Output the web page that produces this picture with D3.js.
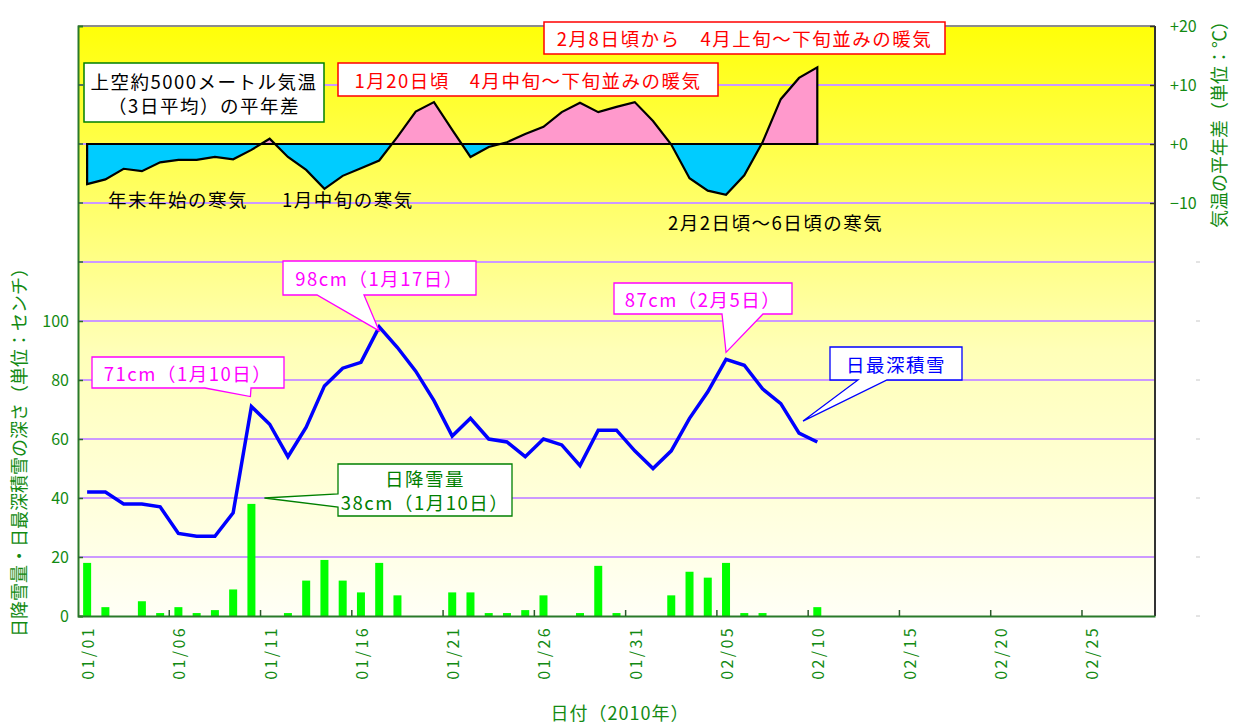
<!DOCTYPE html>
<html>
<head>
<meta charset="utf-8">
<script src="https://cdn.jsdelivr.net/npm/d3@7"></script>
<style>
  body { margin: 0; background: #fff; }
  svg text { font-family: "Noto Sans CJK JP", "Noto Sans", sans-serif; }
</style>
</head>
<body>
<script>
// categories: every day of Jan-Feb 2010
var days = [
  "01/01","01/02","01/03","01/04","01/05","01/06","01/07","01/08","01/09","01/10",
  "01/11","01/12","01/13","01/14","01/15","01/16","01/17","01/18","01/19","01/20",
  "01/21","01/22","01/23","01/24","01/25","01/26","01/27","01/28","01/29","01/30",
  "01/31","02/01","02/02","02/03","02/04","02/05","02/06","02/07","02/08","02/09",
  "02/10","02/11","02/12","02/13","02/14","02/15","02/16","02/17","02/18","02/19",
  "02/20","02/21","02/22","02/23","02/24","02/25","02/26","02/27","02/28"
];
var dayTicks = ["01/01","01/06","01/11","01/16","01/21","01/26","01/31","02/05","02/10","02/15","02/20","02/25"];

// 日降雪量 (cm)
var snowfall = [18,3,0,5,1,3,1,2,9,38, 0,1,12,19,12,8,18,7,0,0, 8,8,1,1,2,7,0,1,17,1, 0,0,7,15,13,18,1,1,0,0, 3];
// 日最深積雪 (cm)
var snowDepth = [42,42,38,38,37,28,27,27,35,71, 65,54,64,78,84,86,98,91,83,73, 61,67,60,59,54,60,58,51,63,63, 56,50,56,67,76,87,85,77,72,62, 59];
// 上空約5000m気温（3日平均）の平年差 (℃)
var tempAnomaly = [-6.8,-6.0,-4.2,-4.6,-3.1,-2.7,-2.7,-2.2,-2.6,-1.0, 0.9,-2.2,-4.4,-7.6,-5.4,-4.1,-2.8,1.2,5.5,7.1,
  2.4,-2.2,-0.5,0.3,1.7,2.9,5.4,7.0,5.4,6.3, 7.1,3.9,-0.1,-5.8,-7.9,-8.6,-5.3,0.3,7.6,11.2, 13.0];

var leftTicks = [0,20,40,60,80,100];
var gridValues = [20,40,60,80,100,120,140,160,180];
var rightTicks = [20,10,0,-10];
var rightTickLabels = ["+20","+10","+0","\u221210"];

var width = 1239, height = 726;
var plot = {left: 78, right: 1155, top: 26, bottom: 616};
var green = "#138a13";

var svg = d3.select("body").append("svg")
  .attr("width", width)
  .attr("height", height);

var defs = svg.append("defs");
var grad = defs.append("linearGradient")
  .attr("id", "bg").attr("x1", 0).attr("y1", 0).attr("x2", 0).attr("y2", 1);
grad.append("stop").attr("offset", "0%").attr("stop-color", "#ffff08");
grad.append("stop").attr("offset", "55%").attr("stop-color", "#ffffb8");
grad.append("stop").attr("offset", "100%").attr("stop-color", "#fffff6");

// scales
var x = d3.scaleBand().domain(days).range([plot.left, plot.right]);
var yL = d3.scaleLinear().domain([0, 200]).range([plot.bottom, plot.top]);
var yR = d3.scaleLinear().domain([-80, 20]).range([plot.bottom, plot.top]);
var cx = function(i) { return x(days[i]) + x.bandwidth() / 2; };

defs.append("clipPath").attr("id", "above").append("rect")
  .attr("x", plot.left).attr("y", plot.top)
  .attr("width", plot.right - plot.left).attr("height", yR(0) - plot.top);
defs.append("clipPath").attr("id", "below").append("rect")
  .attr("x", plot.left).attr("y", yR(0))
  .attr("width", plot.right - plot.left).attr("height", plot.bottom - yR(0));

// plot background
svg.append("rect")
  .attr("x", plot.left).attr("y", plot.top)
  .attr("width", plot.right - plot.left).attr("height", plot.bottom - plot.top)
  .attr("fill", "url(#bg)");

// gridlines
svg.append("g").selectAll("line")
  .data(gridValues)
  .enter().append("line")
  .attr("x1", plot.left).attr("x2", plot.right)
  .attr("y1", function(d) { return yL(d); })
  .attr("y2", function(d) { return yL(d); })
  .attr("stroke", "#cc99ff")
  .attr("stroke-width", 2);

// snowfall bars
svg.append("g").selectAll("rect")
  .data(snowfall)
  .enter().append("rect")
  .attr("x", function(d, i) { return cx(i) - 4; })
  .attr("width", 8)
  .attr("y", function(d) { return yL(d); })
  .attr("height", function(d) { return yL(0) - yL(d); })
  .attr("fill", "#00ff00");

// temperature anomaly area
var area = d3.area()
  .x(function(d, i) { return cx(i); })
  .y0(yR(0))
  .y1(function(d) { return yR(d); });

svg.append("path").datum(tempAnomaly)
  .attr("d", area).attr("fill", "#ff99cc").attr("clip-path", "url(#above)");
svg.append("path").datum(tempAnomaly)
  .attr("d", area).attr("fill", "#00ccff").attr("clip-path", "url(#below)");
svg.append("path").datum(tempAnomaly)
  .attr("d", area).attr("fill", "none")
  .attr("stroke", "#000").attr("stroke-width", 2.2);

// snow depth line
var line = d3.line()
  .x(function(d, i) { return cx(i); })
  .y(function(d) { return yL(d); });
svg.append("path").datum(snowDepth)
  .attr("d", line)
  .attr("fill", "none")
  .attr("stroke", "#0000ff")
  .attr("stroke-width", 3.5)
  .attr("stroke-linejoin", "miter");

// frame
svg.append("line").attr("x1", plot.left).attr("x2", plot.right).attr("y1", plot.top).attr("y2", plot.top)
  .attr("stroke", "#8c8c8c").attr("stroke-width", 2);
svg.append("line").attr("x1", plot.right).attr("x2", plot.right).attr("y1", plot.top).attr("y2", plot.bottom)
  .attr("stroke", "#333").attr("stroke-width", 2);

// left axis
var leftAxis = d3.axisLeft(yL).tickValues(leftTicks).tickSize(-5).tickPadding(9);
var gL = svg.append("g").attr("transform", "translate(" + plot.left + ",0)").call(leftAxis);
gL.select(".domain").attr("stroke", "#2a7a2a").attr("stroke-width", 2);
gL.selectAll(".tick line").attr("stroke", "#2a6a2a").attr("stroke-width", 1.5);
gL.selectAll(".tick text").attr("fill", green).attr("font-size", 16)
  .attr("font-family", "'Liberation Sans', Arial, sans-serif");
// unlabeled upper ticks
svg.append("g").selectAll("line")
  .data(gridValues.filter(function(d) { return d > 100; }))
  .enter().append("line")
  .attr("x1", plot.left).attr("x2", plot.left + 5)
  .attr("y1", function(d) { return yL(d); }).attr("y2", function(d) { return yL(d); })
  .attr("stroke", "#2a6a2a").attr("stroke-width", 1.5);

// right axis
var rightAxis = d3.axisRight(yR).tickValues(rightTicks)
  .tickFormat(function(d, i) { return rightTickLabels[i]; })
  .tickSize(-5).tickPadding(15);
var gR = svg.append("g").attr("transform", "translate(" + plot.right + ",0)").call(rightAxis);
gR.select(".domain").remove();
gR.selectAll(".tick line").attr("stroke", "#333").attr("stroke-width", 1.5);
gR.selectAll(".tick text").attr("fill", green).attr("font-size", 16)
  .attr("font-family", "'Liberation Sans', Arial, sans-serif");
// faint empty tick marks on lower right
svg.append("g").selectAll("line")
  .data(d3.range(-20, -81, -10))
  .enter().append("line")
  .attr("x1", 1196).attr("x2", 1200)
  .attr("y1", function(d) { return yR(d); }).attr("y2", function(d) { return yR(d); })
  .attr("stroke", "#c8c8c8").attr("stroke-width", 1);

// bottom axis
var bottomAxis = d3.axisBottom(x).tickValues(dayTicks).tickSize(0).tickPadding(0);
var gB = svg.append("g").attr("transform", "translate(0," + plot.bottom + ")").call(bottomAxis);
gB.select(".domain").attr("stroke", "#2a7a2a").attr("stroke-width", 2);
gB.selectAll(".tick text")
  .attr("fill", green).attr("font-size", 16)
  .attr("letter-spacing", "2.4px")
  .attr("font-family", "'Liberation Sans', Arial, sans-serif")
  .attr("text-anchor", "end")
  .attr("dy", null)
  .attr("transform", "translate(0,10) rotate(-90)")
  .attr("x", 0).attr("y", 0)
  .attr("dominant-baseline", "central");
svg.append("g").selectAll("line")
  .data(dayTicks.slice(1))
  .enter().append("line")
  .attr("x1", function(d) { return x(d); }).attr("x2", function(d) { return x(d); })
  .attr("y1", plot.bottom).attr("y2", plot.bottom - 6)
  .attr("stroke", "#2a5a2a").attr("stroke-width", 1.5);

// axis titles
svg.append("text")
  .attr("transform", "translate(18,448) rotate(-90)")
  .attr("text-anchor", "middle").attr("dominant-baseline", "central")
  .attr("fill", green).attr("font-size", 18)
  .text("日降雪量・日最深積雪の深さ（単位：センチ）");
svg.append("text")
  .attr("transform", "translate(1218,120) rotate(-90)")
  .attr("text-anchor", "middle").attr("dominant-baseline", "central")
  .attr("fill", green).attr("font-size", 18)
  .text("気温の平年差（単位：℃）");
svg.append("text")
  .attr("x", 620).attr("y", 712)
  .attr("text-anchor", "middle").attr("dominant-baseline", "central")
  .attr("fill", green).attr("font-size", 18)
  .attr("letter-spacing", "1px")
  .text("日付（2010年）");

// callout boxes
function calloutPath(b, t) {
  if (!t) return "M" + b[0] + "," + b[1] + "H" + b[2] + "V" + b[3] + "H" + b[0] + "Z";
  if (t.side === "bottom") {
    return "M" + b[0] + "," + b[1] + "H" + b[2] + "V" + b[3] + "H" + t.b +
      "L" + t.tx + "," + t.ty + "L" + t.a + "," + b[3] + "H" + b[0] + "Z";
  }
  return "M" + b[0] + "," + b[1] + "H" + b[2] + "V" + b[3] + "H" + b[0] + "V" + t.b +
    "L" + t.tx + "," + t.ty + "L" + b[0] + "," + t.a + "Z";
}

var notes = [
  {box: [84, 63, 324, 122], color: "#008000", text: "#000", lines: ["上空約5000メートル気温", "（3日平均）の平年差"]},
  {box: [338, 63, 718, 96], color: "#ff0000", text: "#ff0000", lines: ["1月20日頃　4月中旬～下旬並みの暖気"]},
  {box: [544, 22, 945, 54], color: "#ff0000", text: "#ff0000", lines: ["2月8日頃から　4月上旬～下旬並みの暖気"]},
  {box: [283, 261, 476, 295], color: "#ff00ff", text: "#ff00ff", lines: ["98cm（1月17日）"],
    tail: {side: "bottom", a: 317, b: 364, tx: cx(16), ty: yL(98) + 4}},
  {box: [92, 357, 284, 388], color: "#ff00ff", text: "#ff00ff", lines: ["71cm（1月10日）"],
    tail: {side: "bottom", a: 205, b: 251, tx: cx(9) - 1, ty: yL(71) - 10}},
  {box: [614, 283, 792, 314], color: "#ff00ff", text: "#ff00ff", lines: ["87cm（2月5日）"],
    tail: {side: "bottom", a: 722, b: 763, tx: cx(35), ty: yL(87) - 7}},
  {box: [830, 347, 962, 380], color: "#0000ff", text: "#0000ff", lines: ["日最深積雪"],
    tail: {side: "bottom", a: 858, b: 887, tx: cx(39) + 4, ty: yL(62) - 12}},
  {box: [338, 464, 512, 516], color: "#008000", text: "#008000", lines: ["日降雪量", "38cm（1月10日）"],
    tail: {side: "left", a: 494, b: 507, tx: cx(9) + 13, ty: yL(40)}}
];

var noteG = svg.append("g").selectAll("g")
  .data(notes)
  .enter().append("g");
noteG.append("path")
  .attr("d", function(d) { return calloutPath(d.box, d.tail); })
  .attr("fill", "#fff")
  .attr("stroke", function(d) { return d.color; })
  .attr("stroke-width", function(d) { return d.tail ? 1.3 : 1.5; });
noteG.each(function(d) {
  var g = d3.select(this);
  var midX = (d.box[0] + d.box[2]) / 2;
  var midY = (d.box[1] + d.box[3]) / 2;
  var lh = 24;
  d.lines.forEach(function(s, i) {
    g.append("text")
      .attr("x", midX)
      .attr("y", midY + (i - (d.lines.length - 1) / 2) * lh)
      .attr("text-anchor", "middle")
      .attr("dominant-baseline", "central")
      .attr("fill", d.text)
      .attr("font-size", 18.5)
      .attr("letter-spacing", "1.5px")
      .text(s);
  });
});

// plain annotations
var labels = [
  {x: 108, y: 199, text: "年末年始の寒気"},
  {x: 282, y: 199, text: "1月中旬の寒気"},
  {x: 668, y: 222, text: "2月2日頃～6日頃の寒気"}
];
svg.append("g").selectAll("text")
  .data(labels)
  .enter().append("text")
  .attr("x", function(d) { return d.x; })
  .attr("y", function(d) { return d.y; })
  .attr("dominant-baseline", "central")
  .attr("fill", "#000")
  .attr("font-size", 18.5)
  .attr("letter-spacing", "1.5px")
  .text(function(d) { return d.text; });
</script>
</body>
</html>
